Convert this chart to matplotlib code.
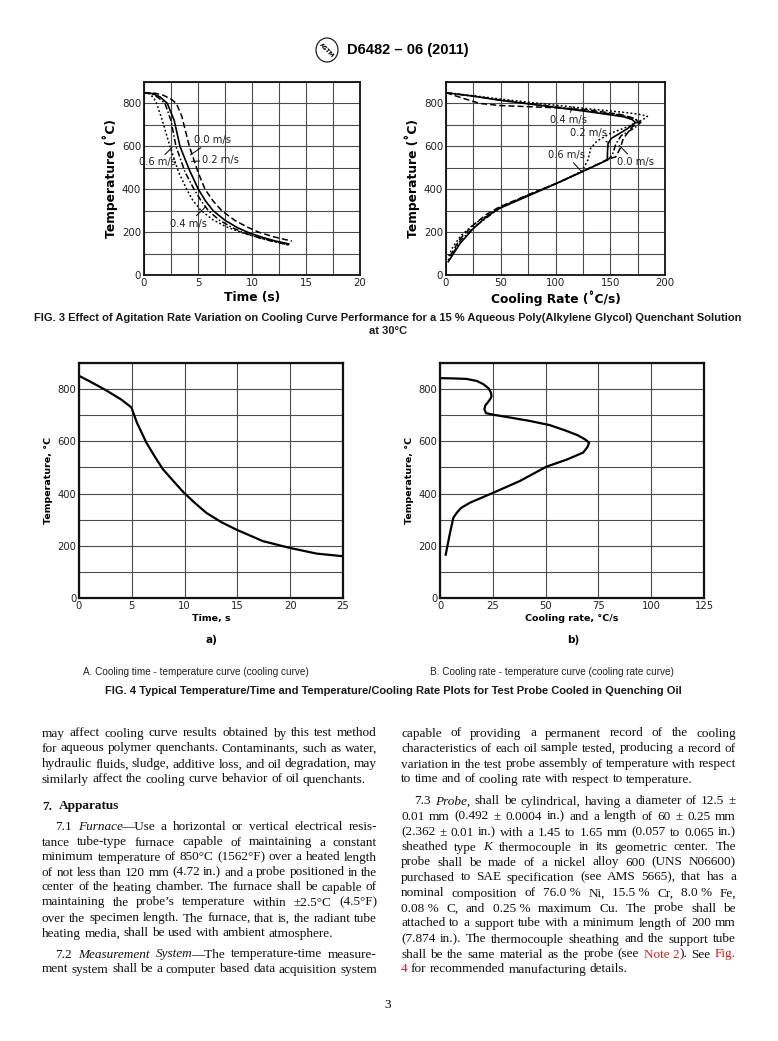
import re
import matplotlib
matplotlib.use('Agg')
import matplotlib.pyplot as plt
from matplotlib.patches import Ellipse

W, H = 778, 1041

# ---- FIG. 3 left: temperature vs time, per agitation rate
t_00 = [0, 1, 1.8, 2.5, 3.0, 3.5, 4.2, 5.0, 5.65, 6.4, 7.2, 8.4, 9.5, 10.6, 12, 13.7]
T_00 = [850, 848, 838, 820, 800, 740, 600, 480, 400, 345, 300, 255, 225, 200, 178, 158]
t_02 = [0, 0.8, 1.5, 2.16, 2.8, 3.33, 4.2, 5.03, 5.7, 6.4, 7.5, 8.6, 9.8, 11, 12.2, 13.4]
T_02 = [850, 846, 830, 800, 720, 600, 490, 400, 345, 300, 255, 222, 195, 175, 158, 145]
t_04 = [0, 0.7, 1.3, 1.94, 2.5, 2.96, 3.8, 4.63, 5.3, 5.96, 7, 8.2, 9.5, 11, 12.3, 13.5]
T_04 = [850, 845, 828, 800, 720, 600, 480, 400, 345, 300, 255, 220, 192, 168, 152, 140]
t_06 = [0, 0.5, 0.9, 1.17, 1.7, 2.4, 3.2, 3.95, 4.5, 5.2, 6.3, 7.6, 9.2, 10.8, 12.2, 13.5]
T_06 = [850, 845, 825, 800, 720, 600, 480, 400, 350, 305, 260, 225, 195, 172, 155, 138]

# ---- FIG. 3 right: temperature vs cooling rate
r_00 = [0, 15, 31, 50, 100, 130, 160, 172, 176, 170, 162, 159, 155, 147, 124, 101, 76, 49, 37, 25, 13, 5, 2]
R_00 = [850, 825, 800, 790, 780, 770, 748, 730, 712, 690, 637, 590, 551, 538, 481, 428, 376, 318, 283, 233, 170, 100, 70]
r_02 = [0, 25, 49, 77, 101, 131, 162, 170, 173, 165, 151, 148, 147.5, 147.3, 124, 101, 77, 49, 37, 25, 13, 2]
R_02 = [850, 834, 815, 797, 781, 761, 738, 725, 710, 680, 637, 613, 575, 536, 481, 427, 373, 311, 272, 217, 148, 62]
r_04 = [0, 25, 50, 100, 130, 160, 172, 178, 172, 160, 155, 152, 148, 124, 101, 76, 49, 25, 13, 3]
R_04 = [850, 834, 816, 784, 765, 745, 730, 712, 685, 650, 610, 560, 538, 481, 427, 375, 313, 220, 160, 70]
r_06 = [0, 25, 50, 100, 130, 160, 176, 184, 180, 165, 150, 138, 132, 130, 124, 101, 76, 49, 25, 13, 5, 2]
R_06 = [850, 836, 820, 792, 775, 760, 750, 740, 725, 690, 660, 625, 590, 540, 484, 428, 375, 315, 235, 180, 120, 80]

# ---- FIG. 4 a) cooling curve
t_oil = [0, 1, 2.5, 4, 4.96, 5.5, 6.38, 7.2, 7.95, 9.0, 9.94, 11, 12.06, 13.5, 14.9, 17.4, 19.95, 22.5, 25]
T_oil = [851, 830, 797, 760, 730, 670, 595, 540, 493, 445, 403, 363, 326, 290, 262, 218, 192, 170, 160]
# ---- FIG. 4 b) cooling rate curve
rate_oil = [0, 6, 12.6, 17.5, 20.5, 23, 24.1, 24.4, 23.8, 22.9, 21.5, 21.0, 21.8, 25.2, 34, 42.6, 52, 59.9, 65, 68.6, 70.6, 69.8, 67.8, 60, 50.4, 37.8, 25.2, 14.2, 10, 7.9, 6.3, 4.5, 2.7]
temp_oil = [842, 841, 839, 831, 819, 803, 787, 772, 762, 752, 738, 723, 708, 702, 690, 678, 662, 640, 624, 608, 595, 578, 557, 530, 503, 448, 403, 365, 345, 326, 307, 240, 166]

fig = plt.figure(figsize=(W / 100, H / 100), dpi=100)


def px(x, y):
    return x / W, 1 - y / H


def add_axes(x0, y0, x1, y1):
    return fig.add_axes([x0 / W, 1 - y1 / H, (x1 - x0) / W, (y1 - y0) / H])


def style_axes(ax, xmax, xstep, xlab_step, xlabel, ylabel, fs_tick, fs_lab, lw_spine):
    ax.set_xlim(0, xmax)
    ax.set_ylim(0, 900)
    ax.set_xticks([i * xstep for i in range(int(round(xmax / xstep)) + 1)], minor=True)
    ax.set_xticks([i * xlab_step for i in range(int(round(xmax / xlab_step)) + 1)])
    ax.set_yticks(range(0, 901, 100), minor=True)
    ax.set_yticks(range(0, 801, 200))
    ax.grid(True, which='both', color='#4a4a4a', lw=0.8)
    ax.tick_params(which='both', length=0, labelsize=fs_tick, colors='#222222', pad=2)
    for s in ax.spines.values():
        s.set_linewidth(lw_spine)
        s.set_color('#111111')
    ax.set_xlabel(xlabel, fontsize=fs_lab, fontweight='bold', labelpad=2)
    ax.set_ylabel(ylabel, fontsize=fs_lab, fontweight='bold', labelpad=3)


# header
logo = Ellipse(px(327, 50), 22 / W, 24 / H, transform=fig.transFigure, fill=False, lw=0.9, ec='#222222')
fig.add_artist(logo)
fig.text(*px(327, 50), 'ASTM', fontsize=4.2, fontweight='bold', ha='center', va='center', rotation=-45)
fig.text(*px(347, 50), 'D6482 \u2013 06 (2011)', fontsize=10.5, fontweight='bold',
         family='Liberation Sans', ha='left', va='center')

# FIG. 3 left
ax1 = add_axes(144, 82, 360, 275)
style_axes(ax1, 20, 2.5, 5, 'Time (s)', 'Temperature (\u02daC)', 7.4, 8.8, 1.3)
ax1.plot(t_00, T_00, color='black', lw=1.1, ls=(0, (4, 2)))
ax1.plot(t_02, T_02, color='black', lw=1.2, ls='-')
ax1.plot(t_04, T_04, color='black', lw=1.1, ls=(0, (4, 1.5, 1, 1.5)))
ax1.plot(t_06, T_06, color='black', lw=1.1, ls=(0, (1.2, 1.5)))
lab = dict(fontsize=7.1, color='#222222', va='center',
           arrowprops=dict(arrowstyle='-', lw=0.7, color='black', shrinkA=0, shrinkB=0))
ax1.annotate('0.0 m/s', xy=(4.3, 560), xytext=(4.6, 630), **lab)
ax1.annotate('0.2 m/s', xy=(4.4, 530), xytext=(5.4, 535), **lab)
ax1.annotate('0.6 m/s', xy=(2.6, 595), xytext=(-0.5, 525), **lab)
ax1.annotate('0.4 m/s', xy=(5.7, 318), xytext=(2.4, 240), **lab)

# FIG. 3 right
ax2 = add_axes(446, 82, 665, 275)
style_axes(ax2, 200, 25, 50, 'Cooling Rate (\u02daC/s)', 'Temperature (\u02daC)', 7.4, 8.8, 1.3)
ax2.plot(r_00, R_00, color='black', lw=1.1, ls=(0, (4, 2)))
ax2.plot(r_02, R_02, color='black', lw=1.2, ls='-')
ax2.plot(r_04, R_04, color='black', lw=1.1, ls=(0, (4, 1.5, 1, 1.5)))
ax2.plot(r_06, R_06, color='black', lw=1.1, ls=(0, (1.2, 1.5)))
ax2.annotate('0.4 m/s', xy=(115, 785), xytext=(95, 722), **lab)
ax2.annotate('0.2 m/s', xy=(149, 617), xytext=(113, 660), **lab)
ax2.annotate('0.6 m/s', xy=(124, 481), xytext=(93, 560), **lab)
ax2.annotate('0.0 m/s', xy=(158, 605), xytext=(156, 528), **lab)

fig.text(*px(388, 318), 'FIG. 3 Effect of Agitation Rate Variation on Cooling Curve Performance for a 15 % '
         'Aqueous Poly(Alkylene Glycol) Quenchant Solution', fontsize=8.0, fontweight='bold',
         family='Liberation Sans', ha='center', va='center', color='#1a1a1a')
fig.text(*px(388, 331), 'at 30\u00b0C', fontsize=8.0, fontweight='bold',
         family='Liberation Sans', ha='center', va='center', color='#1a1a1a')

# FIG. 4 a)
ax3 = add_axes(79, 363, 343, 598)
style_axes(ax3, 25, 5, 5, 'Time, s', 'Temperature, \u00b0C', 7.2, 6.8, 1.6)
ax3.plot(t_oil, T_oil, color='black', lw=1.6)
fig.text(*px(211, 640), 'a)', fontsize=7.5, fontweight='bold', ha='center', va='center')

# FIG. 4 b)
ax4 = add_axes(440, 363, 704, 598)
style_axes(ax4, 125, 25, 25, 'Cooling rate, \u00b0C/s', 'Temperature, \u00b0C', 7.2, 6.8, 1.6)
ax4.plot(rate_oil, temp_oil, color='black', lw=1.6)
fig.text(*px(573, 640), 'b)', fontsize=7.5, fontweight='bold', ha='center', va='center')

fig.text(*px(83, 672), 'A. Cooling time - temperature curve (cooling curve)', fontsize=7.2,
         family='Liberation Sans', ha='left', va='center', color='#222222')
fig.text(*px(430, 672), 'B. Cooling rate - temperature curve (cooling rate curve)', fontsize=7.2,
         family='Liberation Sans', ha='left', va='center', color='#222222')
fig.text(*px(393, 691), 'FIG. 4 Typical Temperature/Time and Temperature/Cooling Rate Plots for Test Probe '
         'Cooled in Quenching Oil', fontsize=8.0, fontweight='bold', family='Liberation Sans',
         ha='center', va='center', color='#1a1a1a')

# ---- body text
left_lines = [
    ('may affect cooling curve results obtained by this test method', 733, 0, True),
    ('for aqueous polymer quenchants. Contaminants, such as water,', 748, 0, True),
    ('hydraulic fluids, sludge, additive loss, and oil degradation, may', 764, 0, True),
    ('similarly affect the cooling curve behavior of oil quenchants.', 779, 0, False),
    ('*7.*~~*Apparatus*', 806, 0, False),
    ('7.1 _Furnace_\u2014Use a horizontal or vertical electrical resis-', 826, 13, True),
    ('tance tube-type furnace capable of maintaining a constant', 842, 0, True),
    ('minimum temperature of 850\u00b0C (1562\u00b0F) over a heated length', 857, 0, True),
    ('of not less than 120 mm (4.72 in.) and a probe positioned in the', 872, 0, True),
    ('center of the heating chamber. The furnace shall be capable of', 887, 0, True),
    ('maintaining the probe\u2019s temperature within \u00b12.5\u00b0C (4.5\u00b0F)', 902, 0, True),
    ('over the specimen length. The furnace, that is, the radiant tube', 918, 0, True),
    ('heating media, shall be used with ambient atmosphere.', 933, 0, False),
    ('7.2 _Measurement_ _System_\u2014The temperature-time measure-', 954, 13, True),
    ('ment system shall be a computer based data acquisition system', 969, 0, True),
]
right_lines = [
    ('capable of providing a permanent record of the cooling', 733, 0, True),
    ('characteristics of each oil sample tested, producing a record of', 748, 0, True),
    ('variation in the test probe assembly of temperature with respect', 764, 0, True),
    ('to time and of cooling rate with respect to temperature.', 779, 0, False),
    ('7.3 _Probe,_ shall be cylindrical, having a diameter of 12.5 \u00b1', 801, 13, True),
    ('0.01 mm (0.492 \u00b1 0.0004 in.) and a length of 60 \u00b1 0.25 mm', 816, 0, True),
    ('(2.362 \u00b1 0.01 in.) with a 1.45 to 1.65 mm (0.057 to 0.065 in.)', 832, 0, True),
    ('sheathed type _K_ thermocouple in its geometric center. The', 847, 0, True),
    ('probe shall be made of a nickel alloy 600 (UNS N06600)', 862, 0, True),
    ('purchased to SAE specification (see AMS 5665), that has a', 877, 0, True),
    ('nominal composition of 76.0~% Ni, 15.5~% Cr, 8.0~% Fe,', 893, 0, True),
    ('0.08~% C, and 0.25~% maximum Cu. The probe shall be', 908, 0, True),
    ('attached to a support tube with a minimum length of 200 mm', 923, 0, True),
    ('(7.874 in.). The thermocouple sheathing and the support tube', 939, 0, True),
    ('shall be the same material as the probe (see ^Note~2^). See ^Fig.^', 954, 0, True),
    ('^4^ for recommended manufacturing details.', 969, 0, False),
]

FS = 9.5
renderer = fig.canvas.get_renderer()


def make_text(s, mark):
    kw = dict(fontsize=FS, family='Liberation Serif', va='baseline', ha='left', color='#111111')
    if mark == '_':
        kw['style'] = 'italic'
    elif mark == '^':
        kw['color'] = '#d01c1c'
    elif mark == '*':
        kw['fontweight'] = 'bold'
    return fig.text(0, 0, s.replace('~', ' '), **kw)


def width(t):
    return t.get_window_extent(renderer).width


probe = fig.text(0, 0, 'a a', fontsize=FS, family='Liberation Serif')
probe2 = fig.text(0, 0, 'aa', fontsize=FS, family='Liberation Serif')
SPACE = width(probe) - width(probe2)
probe.remove()
probe2.remove()


def draw_column(lines, x0, x1):
    for s, y, indent, justify in lines:
        words = []
        for w in s.split(' '):
            parts = [p for p in re.split(r'(_[^_]+_|\^[^^]+\^|\*[^*]+\*)', w) if p]
            items = []
            for p in parts:
                if p[0] in '_^*' and p[-1] == p[0] and len(p) > 1:
                    t = make_text(p[1:-1], p[0])
                    wd = width(t) - (1.5 if p[0] == '_' and len(parts) > 1 else 0)
                else:
                    t = make_text(p, '')
                    wd = width(t)
                items.append((t, wd))
            words.append(items)
        total = sum(wd for items in words for _, wd in items)
        start = x0 + indent
        if justify and len(words) > 1:
            gap = (x1 - start - total) / (len(words) - 1)
        else:
            gap = SPACE
        x = start
        for items in words:
            for t, wd in items:
                t.set_position(px(x, y + 3.5))
                x += wd
            x += gap


draw_column(left_lines, 42, 377)
draw_column(right_lines, 401, 736)

fig.text(*px(388, 1005), '3', fontsize=FS, family='Liberation Serif', ha='center', va='center')

fig.savefig('out.png', dpi=100)
